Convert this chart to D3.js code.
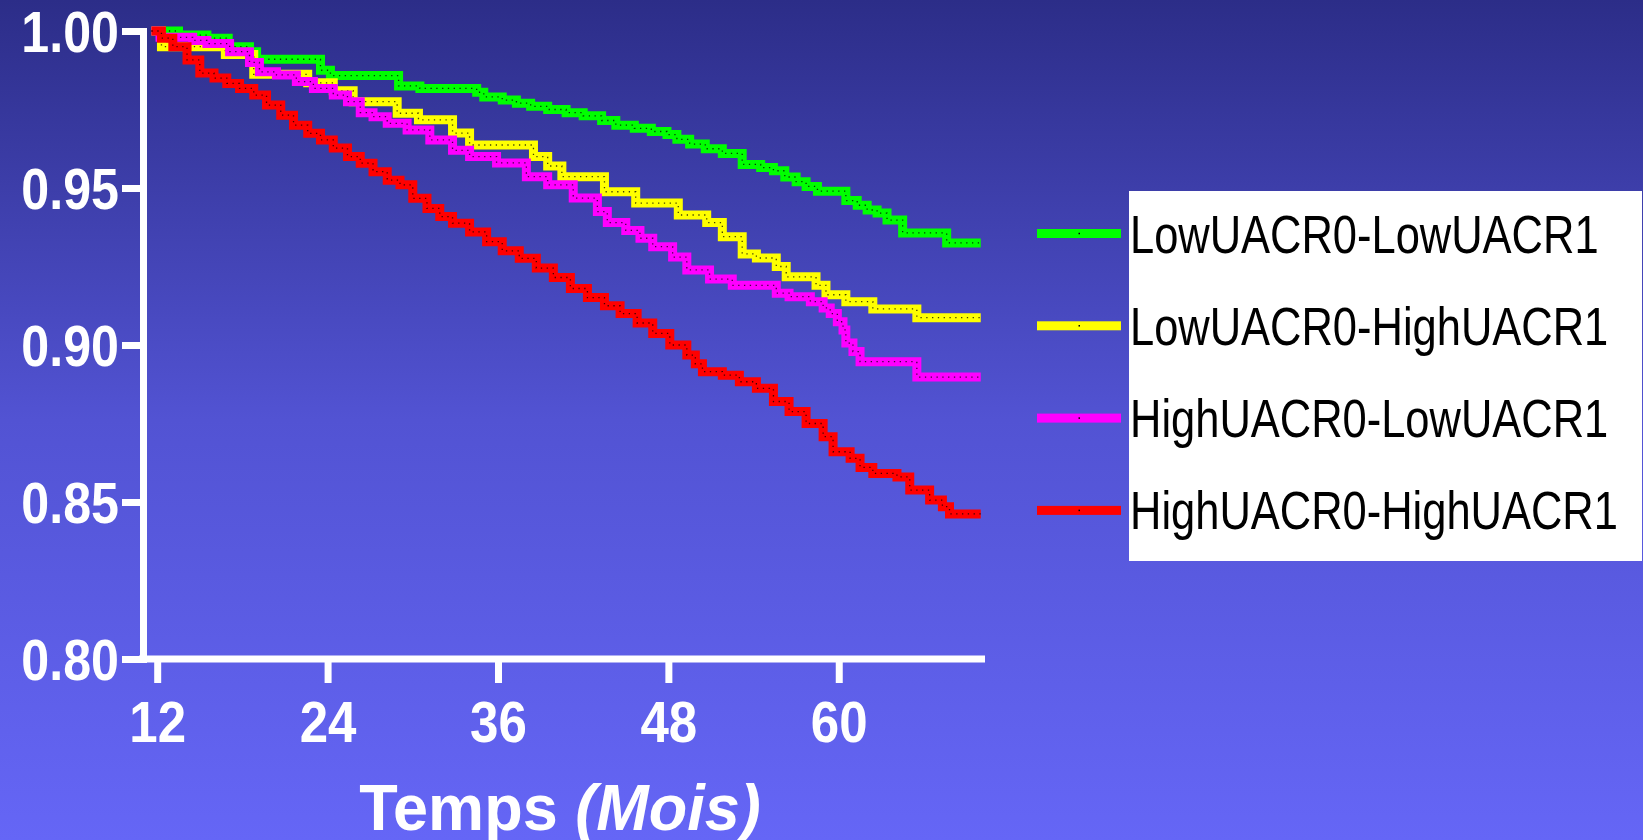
<!DOCTYPE html>
<html>
<head>
<meta charset="utf-8">
<script src="https://cdn.jsdelivr.net/npm/d3@7"></script>
<style>
  html, body { margin: 0; padding: 0; overflow: hidden; }
  svg { display: block; }
</style>
</head>
<body>
<svg id="chart" width="1643" height="840"></svg>
<script>
// Kaplan-Meier survival by UACR group, months since inclusion
const seriesNames = ["LowUACR0-LowUACR1", "LowUACR0-HighUACR1", "HighUACR0-LowUACR1", "HighUACR0-HighUACR1"];
const seriesColors = ["#00ff00", "#ffff00", "#ff00ff", "#ff0000"];

const lowLow = [
  [11.6,1.0],[13.5,0.9987],[15.5,0.9977],[17,0.995],[18.5,0.9934],[19,0.991],[23.5,0.9875],[24.2,0.9858],
  [29,0.9825],[30.5,0.9817],[34.5,0.9805],[35,0.979],[36.3,0.978],[37.3,0.977],[38.3,0.976],[39.5,0.975],
  [40.8,0.974],[42,0.973],[43.3,0.9715],[44.3,0.970],[45.6,0.969],[46.8,0.968],[47.9,0.967],[48.6,0.9655],
  [49.5,0.964],[50.6,0.9625],[51.8,0.961],[53.2,0.9575],[54.5,0.9565],[55.4,0.9555],[56.2,0.9535],[57,0.952],
  [57.7,0.9505],[58.5,0.949],[60.5,0.946],[61.3,0.9445],[62,0.943],[62.7,0.942],[63.4,0.9398],[64.5,0.9357],
  [67.6,0.9325],[70,0.9325]
];
const lowHigh = [
  [11.6,1.0],[12.3,0.995],[16.8,0.9925],[18.8,0.9862],[22.6,0.9835],[24.4,0.981],[25.8,0.9775],[28.9,0.9738],
  [30.4,0.9717],[32.8,0.9675],[34,0.9637],[38.5,0.960],[39.5,0.957],[40.5,0.9536],[43.5,0.9488],[45.7,0.9452],
  [48.7,0.9414],[50.7,0.939],[51.8,0.9345],[53.2,0.929],[54.2,0.9277],[55.6,0.925],[56.3,0.9217],[58.4,0.919],
  [59.1,0.916],[60.5,0.9138],[62.4,0.9115],[65.5,0.9087],[70,0.9087]
];
const highLow = [
  [11.6,1.0],[12.2,0.998],[14.5,0.997],[15.5,0.996],[17.1,0.9934],[18.5,0.990],[19.2,0.987],[20.4,0.986],
  [21.8,0.9839],[23,0.9817],[24.4,0.9796],[25.4,0.9775],[26.3,0.974],[27.2,0.9727],[28.2,0.9706],[29.6,0.9685],
  [31.2,0.9653],[32.8,0.962],[34,0.960],[35.9,0.958],[38,0.9536],[39.5,0.951],[41.3,0.9468],[43,0.9425],
  [43.7,0.939],[45,0.9365],[46,0.934],[46.9,0.9313],[48.3,0.928],[49.3,0.9239],[50.9,0.921],[52.5,0.919],
  [55.6,0.9165],[56.5,0.9154],[58,0.9138],[58.9,0.9118],[59.4,0.910],[59.9,0.9074],[60.3,0.9048],[60.5,0.9006],
  [61,0.8979],[61.5,0.8947],[65.5,0.8898],[70,0.8898]
];
const highHigh = [
  [11.6,1.0],[12.3,0.9977],[13.1,0.995],[14.1,0.9908],[15,0.9866],[16,0.985],[16.9,0.9833],[17.8,0.9817],
  [18.8,0.9796],[19.7,0.9764],[20.7,0.9732],[21.6,0.970],[22.6,0.9674],[23.5,0.9653],[24.4,0.9627],[25.4,0.960],
  [26.3,0.9579],[27.2,0.9552],[28.2,0.9525],[29.1,0.951],[30,0.9467],[31,0.9435],[31.9,0.9409],[32.8,0.9388],
  [34,0.936],[35.2,0.9329],[36.3,0.930],[37.5,0.9276],[38.7,0.9245],[39.9,0.9215],[41.1,0.918],[42.3,0.9151],
  [43.5,0.9125],[44.6,0.910],[45.8,0.907],[46.9,0.9037],[48.1,0.900],[49.3,0.8968],[49.9,0.894],[50.4,0.8915],
  [51.8,0.8904],[53,0.8883],[54.2,0.8862],[55.4,0.882],[56.5,0.8788],[57.7,0.875],[58.9,0.8708],[59.6,0.866],
  [60.8,0.8639],[61.5,0.861],[62.4,0.8591],[64.1,0.858],[65,0.8538],[66.4,0.8506],[67.3,0.8485],[67.8,0.8462],
  [70,0.8462]
];
const seriesData = [lowLow, lowHigh, highLow, highHigh];

const xTicks = [12, 24, 36, 48, 60];
const yTicks = [0.80, 0.85, 0.90, 0.95, 1.00];
const xTitle = "Temps ";
const xTitleItalic = "(Mois)";

const W = 1643, H = 840;
const svg = d3.select("#chart");

// background gradient
const defs = svg.append("defs");
const grad = defs.append("linearGradient").attr("id", "bg").attr("x1", 0).attr("y1", 0).attr("x2", 0).attr("y2", 1);
grad.append("stop").attr("offset", "0%").attr("stop-color", "#2c2d88");
grad.append("stop").attr("offset", "50%").attr("stop-color", "#5253d3");
grad.append("stop").attr("offset", "100%").attr("stop-color", "#6566f6");
svg.append("rect").attr("width", W).attr("height", H).attr("fill", "url(#bg)");

const x = d3.scaleLinear().domain([11, 70.3]).range([143, 985]);
const y = d3.scaleLinear().domain([0.8, 1.0]).range([659, 31]);

const font = "'Liberation Sans', Arial, sans-serif";

function squeeze(sel, k) {
  sel.each(function () {
    const len = this.getComputedTextLength();
    d3.select(this).attr("textLength", len * k).attr("lengthAdjust", "spacingAndGlyphs");
  });
}

// curves
const line = d3.line().x(d => x(d[0])).y(d => y(d[1])).curve(d3.curveStepAfter);
const curves = svg.append("g");
seriesData.forEach((data, i) => {
  curves.append("path").attr("d", line(data)).attr("fill", "none")
    .attr("stroke", seriesColors[i]).attr("stroke-width", 9)
    .attr("stroke-linejoin", "miter").attr("stroke-linecap", "butt");
  curves.append("path").attr("d", line(data)).attr("fill", "none")
    .attr("stroke", "#000").attr("stroke-width", 1.3).attr("stroke-opacity", 0.75)
    .attr("stroke-dasharray", "1.3 4.5");
});

// axes
const yAxis = svg.append("g").attr("transform", `translate(${x(11)},0)`)
  .call(d3.axisLeft(y).tickValues(yTicks).tickFormat(d3.format(".2f")).tickSize(21).tickPadding(0));
const xAxis = svg.append("g").attr("transform", `translate(0,${y(0.8)})`)
  .call(d3.axisBottom(x).tickValues(xTicks).tickSize(24).tickSizeOuter(0));

[yAxis, xAxis].forEach(a => {
  a.selectAll("path, line").attr("stroke", "#fff").attr("stroke-width", 7).attr("stroke-linecap", "butt");
  a.select(".domain").attr("stroke-linejoin", "miter");
  a.selectAll("text").attr("fill", "#fff").attr("font-family", font)
    .attr("font-weight", "bold").attr("font-size", 57);
});
xAxis.select(".domain").attr("d", `M${x(11) - 4},0H${x(70.3)}`);
yAxis.selectAll("text").attr("x", -24).attr("dy", "0.36em");
xAxis.selectAll("text").attr("y", 83).attr("dy", 0).attr("font-size", 58);
squeeze(yAxis.selectAll("text"), 0.88);
squeeze(xAxis.selectAll("text"), 0.88);

// x-axis title
const title = svg.append("text").attr("transform", "translate(560,830) scale(0.97,1)")
  .attr("text-anchor", "middle").attr("fill", "#fff").attr("font-family", font)
  .attr("font-weight", "bold").attr("font-size", 65);
title.append("tspan").text(xTitle);
title.append("tspan").attr("font-style", "italic").text(xTitleItalic);

// legend
const legend = svg.append("g");
legend.append("rect").attr("x", 1129).attr("y", 191).attr("width", 513).attr("height", 370).attr("fill", "#fff");
seriesNames.forEach((name, i) => {
  const cy = 233.5 + i * 92.3;
  legend.append("rect").attr("x", 1037).attr("y", cy - 4.5).attr("width", 84).attr("height", 9)
    .attr("fill", seriesColors[i]);
  legend.append("rect").attr("x", 1078.5).attr("y", cy - 0.75).attr("width", 1.5).attr("height", 1.5)
    .attr("fill", "#000");
  legend.append("text").attr("x", 1130).attr("y", cy + 19).attr("fill", "#000")
    .attr("font-family", font).attr("font-size", 53).text(name);
});
squeeze(legend.selectAll("text"), 0.82);
</script>
</body>
</html>
